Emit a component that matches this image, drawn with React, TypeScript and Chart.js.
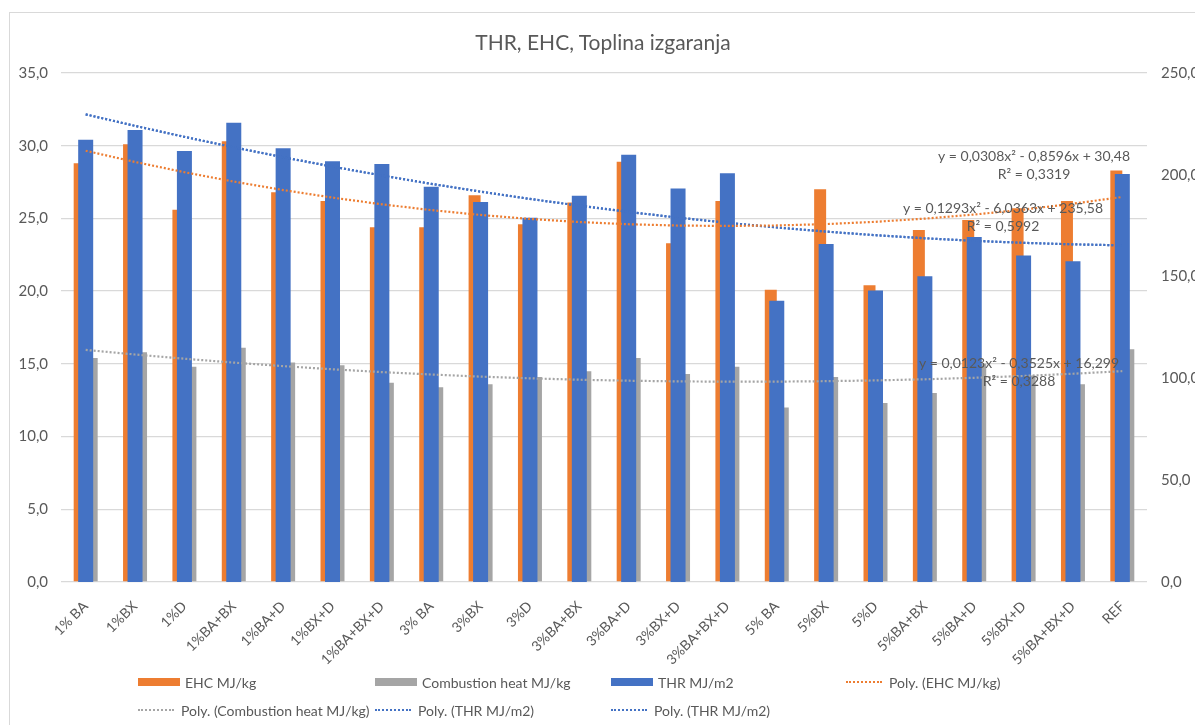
import React, { useEffect, useRef } from "react";
import { Chart, registerables } from "chart.js";

Chart.register(...registerables);

const CATEGORIES = [
  "1% BA", "1%BX", "1%D", "1%BA+BX", "1%BA+D", "1%BX+D", "1%BA+BX+D",
  "3% BA", "3%BX", "3%D", "3%BA+BX", "3%BA+D", "3%BX+D", "3%BA+BX+D",
  "5% BA", "5%BX", "5%D", "5%BA+BX", "5%BA+D", "5%BX+D", "5%BA+BX+D", "REF",
];

const EHC = [28.8, 30.1, 25.6, 30.3, 26.8, 26.2, 24.4, 24.4, 26.6, 24.6, 26.1, 28.9, 23.3, 26.2, 20.1, 27.0, 20.4, 24.2, 24.9, 25.7, 26.2, 28.3];
const COMBUSTION = [15.4, 15.8, 14.8, 16.1, 15.1, 14.9, 13.7, 13.4, 13.6, 14.1, 14.5, 15.4, 14.3, 14.8, 12.0, 14.1, 12.3, 13.0, 15.0, 14.2, 13.6, 16.0];
const THR = [217.2, 222.0, 211.7, 225.6, 213.1, 206.6, 205.3, 194.1, 186.7, 178.9, 189.7, 209.8, 193.3, 200.7, 138.1, 166.0, 143.2, 150.2, 169.5, 160.4, 157.6, 200.4];

// Trendline coefficients as printed on the chart: [a, b, c] for y = a x^2 + b x + c
const EHC_POLY = [0.0308, -0.8596, 30.48];
const COMBUSTION_POLY = [0.0123, -0.3525, 16.299];
const THR_POLY = [0.1293, -6.0363, 235.58];

const EHC_EQ = ["y = 0,0308x² - 0,8596x + 30,48", "R² = 0,3319"];
const THR_EQ = ["y = 0,1293x² - 6,0363x + 235,58", "R² = 0,5992"];
const COMBUSTION_EQ = ["y = 0,0123x² - 0,3525x + 16,299", "R² = 0,3288"];

const LEFT_TICKS = [0, 5, 10, 15, 20, 25, 30, 35];
const RIGHT_TICKS = [0, 50, 100, 150, 200, 250];

const TITLE = "THR, EHC, Toplina izgaranja";

const ORANGE = "#ED7D31";
const GRAY = "#A5A5A5";
const BLUE = "#4472C4";
const TEXT = "#595959";
const FONT = "Lato";

const polyAt = (p: number[], x: number) => p[0] * x * x + p[1] * x + p[2];
const trend = (p: number[]) => CATEGORIES.map((_, i) => polyAt(p, i + 1));
const fmt = (v: number) => v.toFixed(1).replace(".", ",");

const equationPlugin = {
  id: "equations",
  afterDatasetsDraw(chart: any) {
    const ctx = chart.ctx;
    const r = chart.chartArea.right;
    const labels = [
      { lines: EHC_EQ, cx: r - 113, y: chart.chartArea.top + 83 },
      { lines: THR_EQ, cx: r - 144, y: chart.chartArea.top + 135 },
      { lines: COMBUSTION_EQ, cx: r - 128, y: chart.chartArea.top + 290 },
    ];
    ctx.save();
    ctx.fillStyle = TEXT;
    ctx.font = `14px ${FONT}`;
    ctx.textAlign = "center";
    ctx.textBaseline = "middle";
    for (const l of labels) {
      ctx.fillText(l.lines[0], l.cx, l.y);
      ctx.fillText(l.lines[1], l.cx, l.y + 18);
    }
    ctx.restore();
  },
};

const LEGEND = [
  { label: "EHC MJ/kg", color: ORANGE, kind: "box" },
  { label: "Combustion heat MJ/kg", color: GRAY, kind: "box" },
  { label: "THR MJ/m2", color: BLUE, kind: "box" },
  { label: "Poly. (EHC MJ/kg)", color: ORANGE, kind: "dot" },
  { label: "Poly. (Combustion heat MJ/kg)", color: GRAY, kind: "dot" },
  { label: "Poly. (THR MJ/m2)", color: BLUE, kind: "dot" },
  { label: "Poly. (THR MJ/m2)", color: BLUE, kind: "dot" },
];

export default function App() {
  const ref = useRef<HTMLCanvasElement | null>(null);

  useEffect(() => {
    document.body.style.margin = "0";
    const canvas = ref.current;
    if (!canvas) return;
    const dotted = (label: string, data: number[], color: string, axis: string, width: number) => ({
      type: "line" as const,
      label,
      data,
      borderColor: color,
      backgroundColor: color,
      borderWidth: width,
      borderDash: [2, 2],
      pointRadius: 0,
      fill: false,
      tension: 0,
      yAxisID: axis,
      order: 0,
    });
    const chart = new Chart(canvas, {
      type: "bar",
      data: {
        labels: CATEGORIES,
        datasets: [
          {
            type: "bar",
            label: "EHC MJ/kg",
            data: EHC,
            backgroundColor: ORANGE,
            yAxisID: "y",
            order: 2,
            categoryPercentage: 0.486,
            barPercentage: 1,
          },
          {
            type: "bar",
            label: "Combustion heat MJ/kg",
            data: COMBUSTION,
            backgroundColor: GRAY,
            yAxisID: "y",
            order: 2,
            categoryPercentage: 0.486,
            barPercentage: 1,
          },
          {
            type: "bar",
            label: "THR MJ/m2",
            data: THR,
            backgroundColor: BLUE,
            yAxisID: "y1",
            order: 1,
            grouped: false,
            categoryPercentage: 0.304,
            barPercentage: 1,
          },
          dotted("Poly. (EHC MJ/kg)", trend(EHC_POLY), ORANGE, "y", 2.2),
          dotted("Poly. (Combustion heat MJ/kg)", trend(COMBUSTION_POLY), GRAY, "y", 2.2),
          dotted("Poly. (THR MJ/m2)", trend(THR_POLY), BLUE, "y1", 2.2),
          dotted("Poly. (THR MJ/m2)", trend(THR_POLY), BLUE, "y1", 2.2),
        ] as any,
      },
      options: {
        responsive: false,
        animation: false,
        layout: { padding: { top: 73, left: 0, right: 0, bottom: 0 } },
        plugins: {
          legend: { display: false },
          title: { display: false },
          tooltip: { enabled: false },
        },
        scales: {
          x: {
            grid: { display: false, drawTicks: false },
            border: { display: false },
            ticks: {
              autoSkip: false,
              maxRotation: 45,
              minRotation: 45,
              color: TEXT,
              font: { family: FONT, size: 14 },
              padding: 16,
            },
            afterFit: (s: any) => {
              s.height = 143;
            },
          },
          y: {
            position: "left",
            min: LEFT_TICKS[0],
            max: LEFT_TICKS[LEFT_TICKS.length - 1],
            afterBuildTicks: (s: any) => {
              s.ticks = LEFT_TICKS.map((v) => ({ value: v }));
            },
            ticks: {
              color: TEXT,
              font: { family: FONT, size: 15 },
              padding: 13,
              callback: (v: any) => fmt(Number(v)),
            },
            grid: { color: "#D9D9D9", drawTicks: false, lineWidth: 1.3 },
            border: { display: false },
            afterFit: (s: any) => {
              s.width = 61;
            },
          },
          y1: {
            position: "right",
            min: RIGHT_TICKS[0],
            max: RIGHT_TICKS[RIGHT_TICKS.length - 1],
            afterBuildTicks: (s: any) => {
              s.ticks = RIGHT_TICKS.map((v) => ({ value: v }));
            },
            ticks: {
              color: TEXT,
              font: { family: FONT, size: 15 },
              padding: 14,
              callback: (v: any) => fmt(Number(v)),
            },
            grid: { display: false, drawTicks: false },
            border: { display: false },
            afterFit: (s: any) => {
              s.width = 48;
            },
          },
        },
      } as any,
      plugins: [equationPlugin],
    });
    return () => chart.destroy();
  }, []);

  return (
    <div style={{ position: "absolute", left: 0, top: 0, width: 1195, height: 725, background: "#fff", overflow: "hidden" }}>
      <div
        style={{
          position: "absolute",
          left: 9,
          top: 12,
          width: 1250,
          height: 800,
          border: "1px solid #D9D9D9",
          boxSizing: "border-box",
        }}
      />
      <canvas ref={ref} width={1195} height={725} style={{ position: "absolute", left: 0, top: 0 }} />
      <div
        style={{
          position: "absolute",
          left: 0,
          width: 1206,
          top: 28,
          textAlign: "center",
          fontFamily: FONT,
          fontSize: 21,
          color: TEXT,
          lineHeight: "28px",
        }}
      >
        {TITLE}
      </div>
      <div
        style={{
          position: "absolute",
          left: 138,
          top: 668,
          display: "grid",
          gridTemplateColumns: "237px 236px 235px 240px",
          gridAutoRows: "28px",
          fontFamily: FONT,
          fontSize: 14,
          color: TEXT,
        }}
      >
        {LEGEND.map((it, i) => (
          <div key={i} style={{ display: "flex", alignItems: "center", whiteSpace: "nowrap" }}>
            {it.kind === "box" ? (
              <span style={{ display: "inline-block", width: 42, height: 8, background: it.color, marginRight: 5 }} />
            ) : (
              <span
                style={{
                  display: "inline-block",
                  width: 36,
                  height: 0,
                  borderTop: `2px dotted ${it.color}`,
                  marginRight: 7,
                }}
              />
            )}
            <span>{it.label}</span>
          </div>
        ))}
      </div>
    </div>
  );
}
